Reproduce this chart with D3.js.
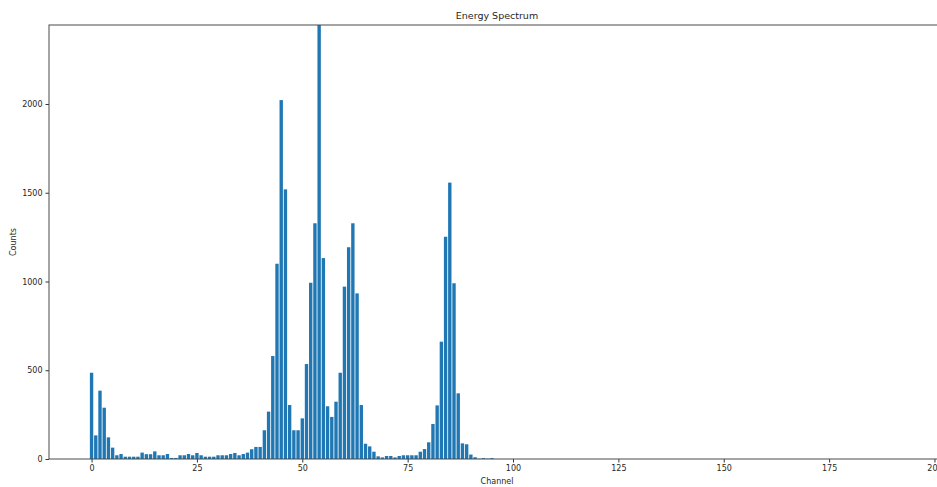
<!DOCTYPE html>
<html lang="en">
<head>
    <meta charset="UTF-8">
    <script src="https://d3js.org/d3.v7.min.js"></script>
    <title>Energy Spectrum</title>
    <style>
        body { margin: 0; background: #fff; }
        svg text { font-family: "DejaVu Sans", sans-serif; fill: #262626; }
        .bar { fill: #1f77b4; }
        .frame { fill: none; stroke: #4a4a4a; stroke-width: 1px; }
        .axis path { display: none; }
        .axis line { stroke: #333; }
        .axis text { font-size: 8px; }
    </style>
</head>
<body>
    <svg id="chart" width="937" height="487"></svg>

    <script>
    // channel counts (channel 0..95, all later channels are empty)
    var channels = d3.range(0, 96);
    var counts = [
        486, 133, 385, 289, 122, 64, 21, 28, 13, 13,
        13, 13, 36, 27, 27, 43, 21, 21, 28, 6,
        6, 21, 21, 28, 21, 34, 21, 13, 13, 13,
        21, 21, 21, 28, 34, 21, 28, 36, 55, 68,
        68, 162, 267, 580, 1100, 2022, 1519, 304, 162, 162,
        229, 535, 993, 1328, 2600, 1132, 297, 237, 323, 486,
        971, 1193, 1328, 933, 304, 86, 71, 41, 15, 9,
        17, 17, 9, 17, 21, 21, 21, 21, 41, 56,
        94, 197, 302, 661, 1252, 1557, 990, 370, 88, 83,
        25, 10, 2, 5, 2, 5
    ];
    var xTicks = [0, 25, 50, 75, 100, 125, 150, 175, 200];
    var yTicks = [0, 500, 1000, 1500, 2000];

    // plot area (the right edge runs past the window, as in the screenshot)
    var pLeft = 49, pRight = 945, pTop = 25, pBottom = 459;

    var x = d3.scaleLinear().domain([-10.1, 202.5]).range([pLeft, pRight]);
    var y = d3.scaleLinear().domain([0, 2445]).range([pBottom, pTop]);
    var barW = x(0.8) - x(0);

    var svg = d3.select("#chart");

    svg.append("clipPath").attr("id", "clip")
        .append("rect")
        .attr("x", pLeft).attr("y", pTop)
        .attr("width", pRight - pLeft).attr("height", pBottom - pTop);

    // bars
    svg.append("g")
        .attr("clip-path", "url(#clip)")
        .selectAll("rect.bar")
        .data(channels)
        .join("rect")
        .classed("bar", true)
        .attr("x", d => x(d) - barW / 2)
        .attr("width", barW)
        .attr("y", (d, i) => y(counts[i]))
        .attr("height", (d, i) => y(0) - y(counts[i]));

    // axes
    svg.append("g")
        .attr("class", "axis")
        .attr("transform", "translate(0," + pBottom + ")")
        .call(d3.axisBottom(x).tickValues(xTicks).tickSize(3.5).tickPadding(3).tickFormat(d3.format("d")));

    svg.append("g")
        .attr("class", "axis")
        .attr("transform", "translate(" + pLeft + ",0)")
        .call(d3.axisLeft(y).tickValues(yTicks).tickSize(3.5).tickPadding(3).tickFormat(d3.format("d")));

    // frame
    svg.append("rect")
        .classed("frame", true)
        .attr("x", pLeft).attr("y", pTop)
        .attr("width", pRight - pLeft).attr("height", pBottom - pTop);

    // titles
    svg.append("text")
        .text("Energy Spectrum")
        .attr("x", (pLeft + pRight) / 2)
        .attr("y", 19)
        .attr("text-anchor", "middle")
        .style("font-size", "9.5px");

    svg.append("text")
        .text("Channel")
        .attr("x", (pLeft + pRight) / 2)
        .attr("y", 484)
        .attr("text-anchor", "middle")
        .style("font-size", "8px");

    svg.append("text")
        .text("Counts")
        .attr("transform", "translate(16," + (pTop + pBottom) / 2 + ") rotate(-90)")
        .attr("text-anchor", "middle")
        .style("font-size", "8px");
    </script>
</body>
</html>
